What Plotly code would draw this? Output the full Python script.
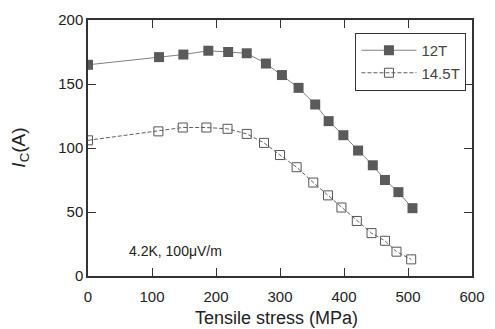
import plotly.graph_objects as go

x12 = [0, 111, 149, 188, 219, 248, 278, 303, 329, 355, 376, 399, 422, 445, 464, 485, 507]
y12 = [165, 171, 173, 176, 175, 174, 166, 157, 147, 134, 121, 110, 98, 86.5, 75, 65.5, 53]
x145 = [0, 110, 148, 185, 218, 248, 275, 300, 326, 352, 375, 396, 420, 443, 464, 482, 505]
y145 = [106, 113, 116, 116, 115, 111, 104, 94.5, 85, 73, 63, 53.5, 43, 33.5, 27.5, 19, 13]
xticks = [0, 100, 200, 300, 400, 500, 600]
yticks = [0, 50, 100, 150, 200]

FONT = "Liberation Sans, Arial"

fig = go.Figure()
fig.add_trace(go.Scatter(x=x12, y=y12, name="12T", mode="lines+markers",
                         line=dict(color="#808080", width=1),
                         marker=dict(symbol="square", size=10, color="#5a5a5a",
                                     line=dict(width=0))))
fig.add_trace(go.Scatter(x=x145, y=y145, name="14.5T", mode="lines+markers",
                         line=dict(color="#606060", width=1, dash="4px,2px"),
                         marker=dict(symbol="square-open", size=9, color="#555555",
                                     line=dict(width=1))))

axis_common = dict(showgrid=False, zeroline=False, showline=True, linecolor="#333333",
                   linewidth=1.5, mirror="ticks", ticks="inside", ticklen=8,
                   tickcolor="#333333", tickwidth=1.2, automargin=False,
                   tickfont=dict(family=FONT, size=15, color="#222222"))
fig.update_xaxes(range=[0, 600], tickvals=xticks, **axis_common, ticklabelstandoff=6)
fig.update_yaxes(range=[0, 200], tickvals=yticks, **axis_common)

fig.add_annotation(x=0.49, y=-0.165, xref="paper", yref="paper", showarrow=False,
                   text="Tensile stress (MPa)", xanchor="center", yanchor="middle",
                   font=dict(family=FONT, size=18, color="#222222"))
fig.add_annotation(x=-0.178, y=0.5, xref="paper", yref="paper", showarrow=False,
                   text="<i>I</i><sub>C</sub>(A)", textangle=-90,
                   xanchor="center", yanchor="middle",
                   font=dict(family=FONT, size=19, color="#222222"))
fig.add_annotation(x=0.227, y=0.098, xref="paper", yref="paper", showarrow=False,
                   text="4.2K, 100\u03bcV/m", xanchor="center", yanchor="middle",
                   font=dict(family=FONT, size=14, color="#222222"))

fig.update_layout(width=495, height=329, margin=dict(l=88, r=23, t=20, b=53),
                  paper_bgcolor="white", plot_bgcolor="white", showlegend=True,
                  legend=dict(x=0.985, y=0.95, xanchor="right", yanchor="top",
                              bordercolor="#333333", borderwidth=1.2, bgcolor="white",
                              font=dict(family=FONT, size=15, color="#444444"),
                              tracegroupgap=0, itemwidth=55))
fig.write_html("out.html")
